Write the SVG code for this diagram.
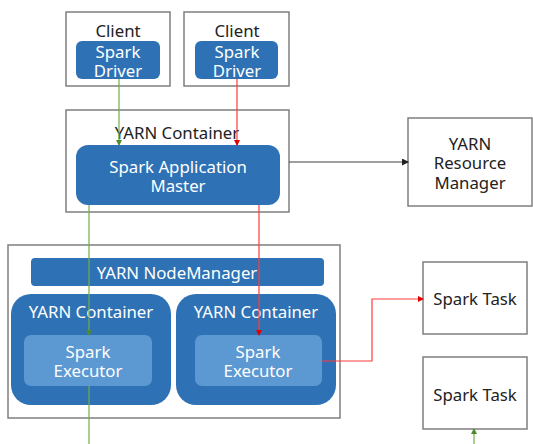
<svg xmlns="http://www.w3.org/2000/svg" width="533" height="444" viewBox="0 0 533 444">
<style>
.box{fill:#fff;stroke:#7f7f7f;stroke-width:1.5}
.dark{fill:#2e72b5}
.light{fill:#5c98d2}
.t{font-family:"Noto Sans","Open Sans",sans-serif;font-size:16.8px;text-anchor:middle;dominant-baseline:central}
.tk{fill:#222}
.tw{fill:#fff}
.g{stroke:#70ad47;stroke-width:1.2;fill:none}
.r{stroke:#ff3b3b;stroke-width:1.2;fill:none}
.k{stroke:#404040;stroke-width:1.2;fill:none}
</style>
<defs>
<marker id="ag" markerWidth="6" markerHeight="6" refX="5" refY="3" orient="auto" markerUnits="userSpaceOnUse"><path d="M0,0 L6,3 L0,6 z" fill="#4f8a2e"/></marker>
<marker id="ar" markerWidth="6" markerHeight="6" refX="5" refY="3" orient="auto" markerUnits="userSpaceOnUse"><path d="M0,0 L6,3 L0,6 z" fill="#e00000"/></marker>
<marker id="ak" markerWidth="7" markerHeight="7" refX="6" refY="3.5" orient="auto" markerUnits="userSpaceOnUse"><path d="M0,0 L7,3.5 L0,7 z" fill="#222"/></marker>
</defs>

<g id="client1">
<rect class="box" x="66" y="12" width="104" height="74"/>
<text class="t tk" x="118" y="30">Client</text>
<rect class="dark" x="76" y="41" width="84" height="38" rx="6"/>
<text class="t tw" x="118" y="51">Spark</text>
<text class="t tw" x="118" y="70">Driver</text>
</g>
<g id="client2">
<rect class="box" x="184" y="12" width="105" height="74"/>
<text class="t tk" x="237" y="30">Client</text>
<rect class="dark" x="195" y="41" width="83" height="38" rx="6"/>
<text class="t tw" x="237" y="51">Spark</text>
<text class="t tw" x="237" y="70">Driver</text>
</g>
<g id="am-container">
<rect class="box" x="66" y="110" width="223" height="102"/>
<text class="t tk" x="177" y="132">YARN Container</text>
<rect class="dark" x="76" y="145" width="204" height="60" rx="12"/>
<text class="t tw" x="178" y="166">Spark Application</text>
<text class="t tw" x="178" y="185">Master</text>
</g>
<g id="resource-manager">
<rect class="box" x="408" y="118" width="124" height="88"/>
<text class="t tk" x="470" y="143">YARN</text>
<text class="t tk" x="470" y="162">Resource</text>
<text class="t tk" x="470" y="182">Manager</text>
</g>
<g id="node">
<rect class="box" x="8" y="245" width="332" height="173"/>
<rect class="dark" x="31" y="258" width="293" height="28" rx="4"/>
<text class="t tw" x="177" y="272">YARN NodeManager</text>
</g>
<g id="container-left">
<rect class="dark" x="11" y="294" width="160" height="111" rx="20"/>
<text class="t tw" x="91" y="311">YARN Container</text>
<rect class="light" x="24" y="335" width="128" height="51" rx="7"/>
<text class="t tw" x="88" y="351">Spark</text>
<text class="t tw" x="88" y="370">Executor</text>
</g>
<g id="container-right">
<rect class="dark" x="176" y="294" width="160" height="111" rx="20"/>
<text class="t tw" x="256" y="311">YARN Container</text>
<rect class="light" x="195" y="335" width="127" height="51" rx="7"/>
<text class="t tw" x="258" y="351">Spark</text>
<text class="t tw" x="258" y="370">Executor</text>
</g>
<g id="task1">
<rect class="box" x="423" y="262" width="104" height="72"/>
<text class="t tk" x="475" y="298">Spark  Task</text>
</g>
<g id="task2">
<rect class="box" x="423" y="357" width="104" height="72"/>
<text class="t tk" x="475" y="394">Spark  Task</text>
</g>

<g id="connectors">
<line class="g" x1="119" y1="79" x2="119" y2="145" marker-end="url(#ag)"/>
<line class="r" x1="237" y1="79" x2="237" y2="145" marker-end="url(#ar)"/>
<line class="k" x1="289" y1="162" x2="408" y2="162" marker-end="url(#ak)"/>
<line class="g" x1="89" y1="205" x2="89" y2="335" marker-end="url(#ag)"/>
<line class="g" x1="89" y1="386" x2="89" y2="444"/>
<line class="r" x1="259" y1="205" x2="259" y2="335" marker-end="url(#ar)"/>
<polyline class="r" points="322,361 372,361 372,299 423,299" marker-end="url(#ar)"/>
<line class="g" x1="474" y1="444" x2="474" y2="429" marker-end="url(#ag)"/>
</g>
</svg>
